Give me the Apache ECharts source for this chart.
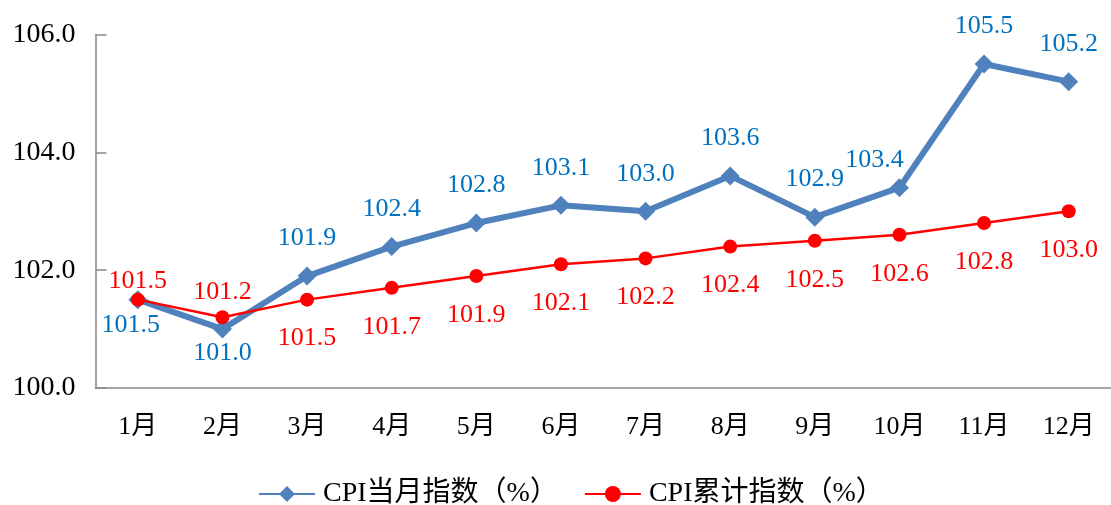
<!DOCTYPE html>
<html>
<head>
<meta charset="utf-8">
<script src="https://cdn.jsdelivr.net/npm/echarts@6/dist/echarts.min.js"></script>
<style>
html,body{margin:0;padding:0;background:#fff;}
#c{width:1111px;height:505px;}
</style>
</head>
<body>
<div id="c"></div>
<script>
const categories = ['1月','2月','3月','4月','5月','6月','7月','8月','9月','10月','11月','12月'];
const monthlyCPI = [101.5, 101.0, 101.9, 102.4, 102.8, 103.1, 103.0, 103.6, 102.9, 103.4, 105.5, 105.2];
const cumulativeCPI = [101.5, 101.2, 101.5, 101.7, 101.9, 102.1, 102.2, 102.4, 102.5, 102.6, 102.8, 103.0];
const seriesNames = ['CPI当月指数（%）', 'CPI累计指数（%）'];

const FONT = '"Liberation Serif", "Times New Roman", "Noto Sans CJK SC", serif';

const blueData = monthlyCPI.map((v, i) => {
  const d = { value: v };
  if (i === 0) d.label = { position: 'bottom', distance: 3, offset: [-7, 0] };
  if (i === 1) d.label = { position: 'bottom', distance: 2 };
  if (i === 9) d.label = { offset: [-25, 10] };
  return d;
});
const redData = cumulativeCPI.map((v, i) => {
  const d = { value: v };
  if (i === 0) d.label = { position: 'top', distance: -2 };
  if (i === 1) d.label = { position: 'top', distance: 5 };
  return d;
});

const chart = echarts.init(document.getElementById('c'), null, { renderer: 'canvas' });
chart.setOption({
  animation: false,
  backgroundColor: '#ffffff',
  grid: { left: 95.5, right: -8.5, top: 34.5, bottom: 117 },
  legend: {
    top: 475,
    left: 253,
    itemWidth: 56,
    itemHeight: 20,
    itemGap: 26,
    textStyle: { fontFamily: FONT, fontSize: 28, color: '#000', padding: [0, 0, 0, 3] },
    data: seriesNames
  },
  xAxis: {
    type: 'category',
    data: categories,
    boundaryGap: true,
    axisLine: { lineStyle: { color: '#898989', width: 1.5 } },
    axisTick: { inside: true, length: 10, lineStyle: { color: '#898989', width: 1.5 } },
    axisLabel: { fontFamily: FONT, fontSize: 26, color: '#000', margin: 26 },
    splitLine: { show: false }
  },
  yAxis: {
    type: 'value',
    min: 100,
    max: 106,
    interval: 2,
    axisLine: { show: true, lineStyle: { color: '#898989', width: 1.5 } },
    axisTick: { show: true, inside: true, length: 11, lineStyle: { color: '#898989', width: 1.5 } },
    axisLabel: { fontFamily: FONT, fontSize: 28, color: '#000', margin: 20, formatter: v => v.toFixed(1) },
    splitLine: { show: false }
  },
  series: [
    {
      name: seriesNames[0],
      type: 'line',
      data: blueData,
      symbol: 'diamond',
      symbolSize: 19,
      itemStyle: { color: '#4F81BD' },
      lineStyle: { color: '#4F81BD', width: 6 },
      label: {
        show: true,
        position: 'top',
        distance: 15,
        fontFamily: FONT,
        fontSize: 26,
        color: '#0070C0',
        formatter: p => p.value.toFixed(1)
      },
      z: 2
    },
    {
      name: seriesNames[1],
      type: 'line',
      data: redData,
      symbol: 'circle',
      symbolSize: 14,
      itemStyle: { color: '#FF0000' },
      lineStyle: { color: '#FF0000', width: 2.5 },
      label: {
        show: true,
        position: 'bottom',
        distance: 19,
        fontFamily: FONT,
        fontSize: 26,
        color: '#FF0000',
        formatter: p => p.value.toFixed(1)
      },
      z: 3
    }
  ]
});
</script>
</body>
</html>
